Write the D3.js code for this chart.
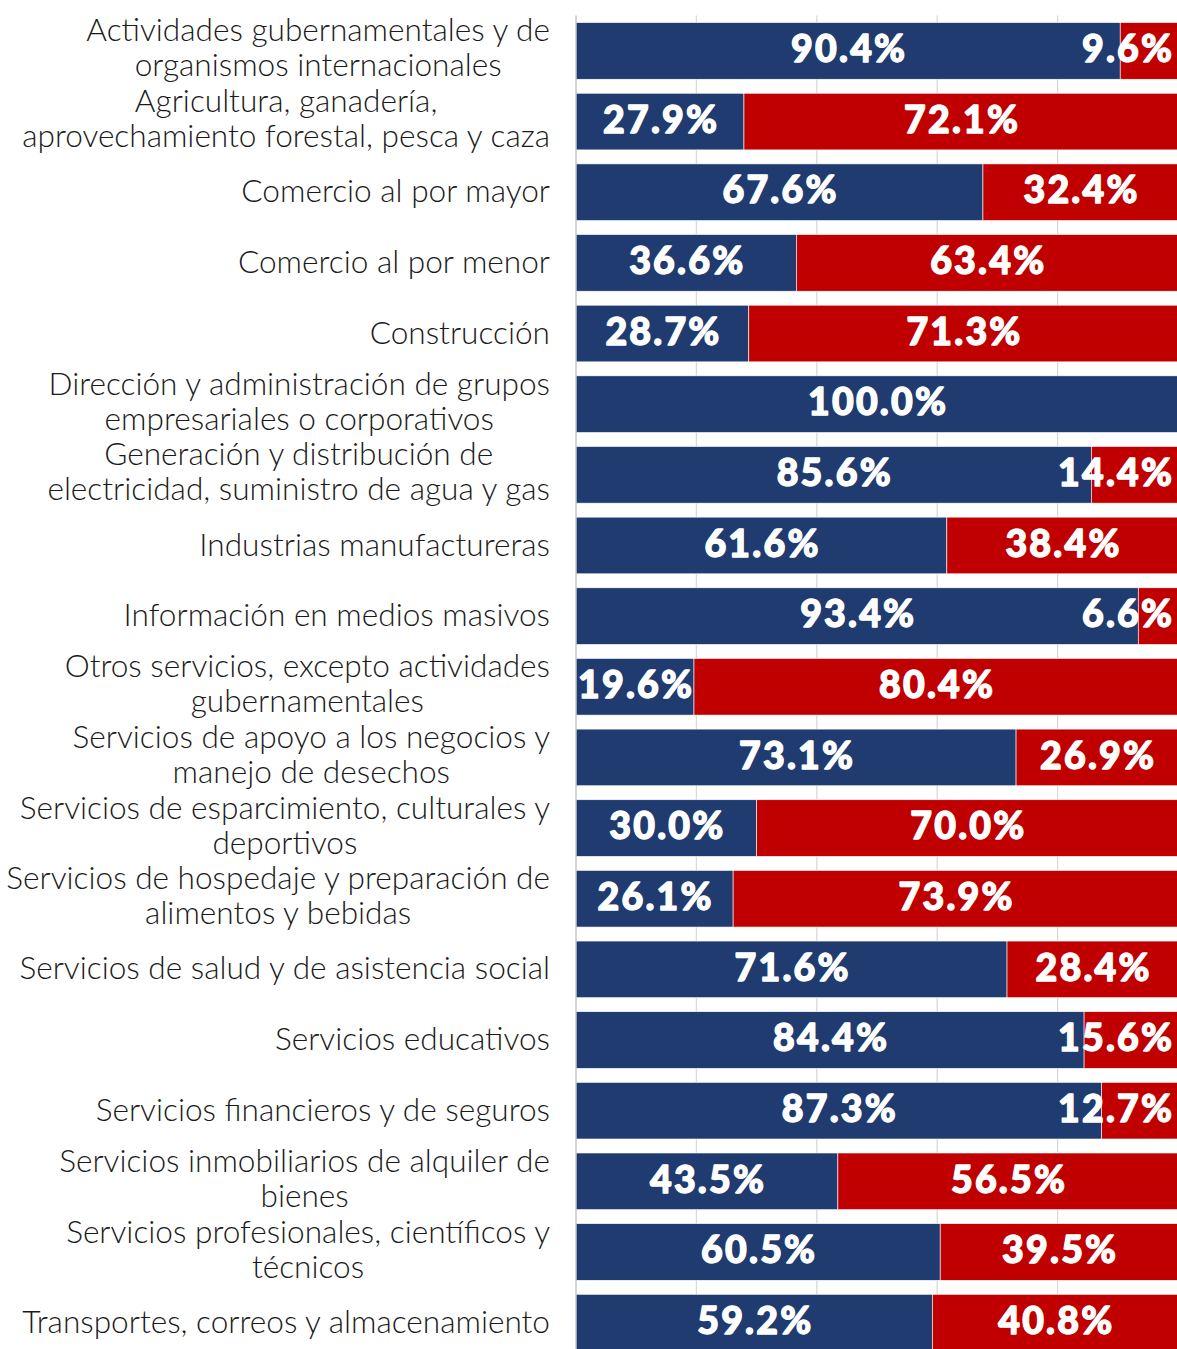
<!DOCTYPE html>
<html><head><meta charset="utf-8">
<script src="https://cdn.jsdelivr.net/npm/d3@7"></script>
<style>
html,body{margin:0;padding:0;background:#fff;}
svg{display:block;}
</style></head>
<body>
<svg id="chart" width="1177" height="1349"></svg>
<script>
const categories = [
  "Actividades gubernamentales y de organismos internacionales",
  "Agricultura, ganadería, aprovechamiento forestal, pesca y caza",
  "Comercio al por mayor",
  "Comercio al por menor",
  "Construcción",
  "Dirección y administración de grupos empresariales o corporativos",
  "Generación y distribución de electricidad, suministro de agua y gas",
  "Industrias manufactureras",
  "Información en medios masivos",
  "Otros servicios, excepto actividades gubernamentales",
  "Servicios de apoyo a los negocios y manejo de desechos",
  "Servicios de esparcimiento, culturales y deportivos",
  "Servicios de hospedaje y preparación de alimentos y bebidas",
  "Servicios de salud y de asistencia social",
  "Servicios educativos",
  "Servicios financieros y de seguros",
  "Servicios inmobiliarios de alquiler de bienes",
  "Servicios profesionales, científicos y técnicos",
  "Transportes, correos y almacenamiento"
];
const labelLines = [
  ["Actividades gubernamentales y de","organismos internacionales"],
  ["Agricultura, ganadería,","aprovechamiento forestal, pesca y caza"],
  ["Comercio al por mayor"],
  ["Comercio al por menor"],
  ["Construcción"],
  ["Dirección y administración de grupos","empresariales o corporativos"],
  ["Generación y distribución de","electricidad, suministro de agua y gas"],
  ["Industrias manufactureras"],
  ["Información en medios masivos"],
  ["Otros servicios, excepto actividades","gubernamentales"],
  ["Servicios de apoyo a los negocios y","manejo de desechos"],
  ["Servicios de esparcimiento, culturales y","deportivos"],
  ["Servicios de hospedaje y preparación de","alimentos y bebidas"],
  ["Servicios de salud y de asistencia social"],
  ["Servicios educativos"],
  ["Servicios financieros y de seguros"],
  ["Servicios inmobiliarios de alquiler de","bienes"],
  ["Servicios profesionales, científicos y","técnicos"],
  ["Transportes, correos y almacenamiento"]
];
const seriesA = [90.4,27.9,67.6,36.6,28.7,100.0,85.6,61.6,93.4,19.6,73.1,30.0,26.1,71.6,84.4,87.3,43.5,60.5,59.2];
const seriesB = [9.6,72.1,32.4,63.4,71.3,0,14.4,38.4,6.6,80.4,26.9,70.0,73.9,28.4,15.6,12.7,56.5,39.5,40.8];
const xTicks = [0,20,40,60,80,100];
const colors = ["#1F3B6F","#C00000"];

const svg = d3.select("#chart");
const x0 = 576, x1 = 1178;
const yTop = 15.6, step = 70.65;
const x = d3.scaleLinear().domain([0,100]).range([x0,x1]);
const pad = 14/step;
const y = d3.scaleBand().domain(categories).range([yTop, yTop + step*categories.length]).paddingInner(pad).paddingOuter(pad/2);

// gridlines
const grid = svg.append("g");
grid.selectAll("line").data(xTicks.slice(1)).join("line")
  .attr("x1", d=>x(d)).attr("x2", d=>x(d))
  .attr("y1", yTop).attr("y2", 1349)
  .attr("stroke","#d9d9d9").attr("stroke-width",1.3);

const rows = categories.map((c,i)=>({c, a:seriesA[i], b:seriesB[i], lines:labelLines[i]}));

// bars
const g = svg.append("g");
rows.forEach(r=>{
  const segs = [{v0:0,v1:r.a,col:colors[0],v:r.a},{v0:r.a,v1:r.a+r.b,col:colors[1],v:r.b}];
  segs.forEach(s=>{
    if (s.v<=0) return;
    g.append("rect")
      .attr("x", x(s.v0)).attr("y", y(r.c))
      .attr("width", x(s.v1)-x(s.v0)).attr("height", y.bandwidth())
      .attr("fill", s.col).attr("stroke","#fff").attr("stroke-width",0.6);
  });
});
// axis line
svg.append("line").attr("x1",x0).attr("x2",x0).attr("y1",yTop).attr("y2",1349)
  .attr("stroke","#bfbfbf").attr("stroke-width",1.3);

// value labels
const ls = 2.2;
const vl = svg.append("g").attr("font-family","Lato, 'DejaVu Sans', sans-serif")
  .attr("font-weight",900).attr("font-size",37.5).attr("fill","#fff")
  .attr("stroke","#fff").attr("stroke-width",1.3).attr("stroke-linejoin","round")
  .attr("letter-spacing", ls).attr("text-anchor","start");
const maxRight = 1172;
rows.forEach(r=>{
  const segs = [{v0:0,v1:r.a,v:r.a},{v0:r.a,v1:r.a+r.b,v:r.b}];
  segs.forEach(s=>{
    if (s.v<=0) return;
    const t = vl.append("text")
      .attr("y", y(r.c)+y.bandwidth()/2)
      .attr("dy","0.3em")
      .text(s.v.toFixed(1)+"%");
    const w = t.node().getComputedTextLength() - ls;
    let cx = (x(s.v0)+x(s.v1))/2;
    if (cx + w/2 > maxRight) cx = maxRight - w/2;
    t.attr("x", cx - w/2);
  });
});

// category labels
const lab = svg.append("g").attr("font-family","Lato, 'Open Sans', sans-serif")
  .attr("font-weight",300).attr("font-size",31.6).attr("fill","#1a1a1a");
const rightEdge = 550, lineH = 35;
rows.forEach(r=>{
  const t = lab.append("text").attr("text-anchor","middle");
  const n = r.lines.length;
  const cy = y(r.c)+y.bandwidth()/2 - (n>1?3:1);
  const spans = r.lines.map((ln,j)=> t.append("tspan").attr("y", cy + (j-(n-1)/2)*lineH).attr("dy","0.35em").text(ln));
  let maxW = 0;
  spans.forEach(sp=>{ maxW = Math.max(maxW, sp.node().getComputedTextLength()); });
  spans.forEach(sp=> sp.attr("x", rightEdge - maxW/2));
});
</script>
</body></html>
